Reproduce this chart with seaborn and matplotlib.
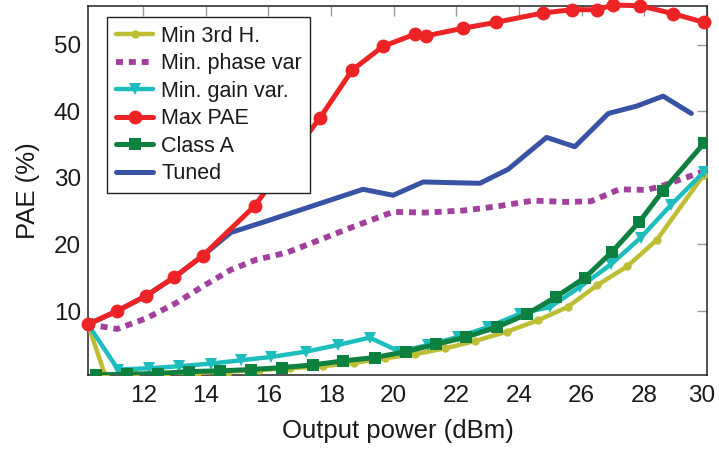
import matplotlib
matplotlib.use("Agg")
import matplotlib.pyplot as plt
import matplotlib.transforms as mtransforms
import seaborn as sns
import pandas as pd

sns.set_theme(style="white")
plt.rcParams['font.family'] = ['Liberation Sans', 'DejaVu Sans']

# ---- data ----
x_3rd = [10.24, 10.78, 11.75, 12.74, 13.73, 14.71, 15.7, 16.68, 17.73, 18.74, 19.71,
         20.67, 21.65, 22.6, 23.62, 24.6, 25.55, 26.5, 27.45, 28.4, 29.9]
y_3rd = [8.0, 0.4, 0.5, 0.6, 0.7, 0.9, 1.1, 1.4, 1.7, 2.2, 2.9,
         3.5, 4.4, 5.5, 6.9, 8.6, 10.6, 13.9, 16.7, 20.7, 30.5]

x_phase = [10.24, 11.17, 12.1, 13.05, 13.9, 14.8, 15.6, 16.6, 17.64, 18.67, 19.98,
           21.0, 22.2, 23.26, 24.45, 25.5, 26.3, 27.2, 28.05, 28.5, 29.9]
y_phase = [8.0, 7.3, 8.9, 11.2, 13.7, 16.2, 17.7, 18.8, 20.7, 22.6, 24.9,
           24.8, 25.1, 25.7, 26.6, 26.4, 26.5, 28.3, 28.2, 28.7, 31.0]

x_gain = [10.24, 11.2, 12.2, 13.16, 14.17, 15.13, 16.09, 17.21, 18.22, 19.23, 20.19,
          21.1, 22.05, 23.02, 24.03, 24.99, 25.94, 26.93, 27.88, 28.84, 29.9]
y_gain = [8.0, 1.2, 1.4, 1.7, 2.1, 2.6, 3.1, 3.9, 4.9, 6.0, 3.9,
          4.9, 6.1, 7.6, 9.6, 10.6, 13.6, 17.0, 21.0, 25.9, 30.9]

x_pae = [10.24, 11.17, 12.1, 13.0, 13.9, 15.56, 16.6, 17.64, 18.67, 19.66, 20.67,
         21.02, 22.2, 23.26, 24.75, 25.7, 26.48, 27.0, 27.86, 28.92, 29.9]
y_pae = [8.0, 10.0, 12.3, 15.1, 18.3, 25.8, 32.5, 39.0, 46.2, 49.8, 51.6,
         51.35, 52.5, 53.4, 54.8, 55.3, 55.3, 56.0, 55.9, 54.7, 53.4]

x_classa = [10.48, 11.48, 12.47, 13.46, 14.44, 15.43, 16.43, 17.43, 18.38, 19.39, 20.38,
            21.36, 22.32, 23.3, 24.24, 25.17, 26.1, 26.97, 27.84, 28.58, 29.9]
y_classa = [0.4, 0.5, 0.6, 0.9, 1.0, 1.2, 1.5, 1.9, 2.5, 3.0, 3.9,
            5.0, 6.1, 7.6, 9.5, 12.1, 15.0, 18.9, 23.4, 28.0, 35.2]

x_tuned = [10.24, 11.17, 12.1, 13.0, 13.9, 14.8, 15.93, 19.02, 19.98, 20.94, 22.75,
           23.65, 24.88, 25.78, 26.85, 27.75, 28.6, 29.5]
y_tuned = [8.0, 10.0, 12.3, 15.1, 18.3, 21.8, 23.5, 28.3, 27.4, 29.4, 29.2,
           31.3, 36.1, 34.7, 39.7, 40.8, 42.3, 39.7]

labels = ["Min 3rd H.", "Min. phase var", "Min. gain var.", "Max PAE", "Class A", "Tuned"]
x_ticks = [12, 14, 16, 18, 20, 22, 24, 26, 28, 30]
y_ticks = [10, 20, 30, 40, 50]

# ---- figure ----
fig = plt.figure(figsize=(7.19, 4.49), dpi=100)
ax = fig.add_axes([0.1224, 0.1648, 0.8609, 0.8225])

def draw(x, y, label, color, z, **kw):
    df = pd.DataFrame({"x": x, "y": y})
    sns.lineplot(data=df, x="x", y="y", ax=ax, sort=False, estimator=None,
                 color=color, label=label, zorder=z, **kw)

draw(x_3rd, y_3rd, labels[0], "#BDBE33", 3, lw=3.2, marker="o", markersize=6,
     markeredgewidth=0)
draw(x_phase, y_phase, labels[1], "#A2409D", 3.1, lw=4.2, dashes=(1.2, 1.0))
draw(x_gain, y_gain, labels[2], "#1EBDBD", 3.2, lw=3.2, marker="v", markersize=8,
     markeredgewidth=0)
draw(x_pae, y_pae, labels[3], "#EE2325", 3.5, lw=3.6, marker="o", markersize=10,
     markeredgewidth=0, clip_on=False)
draw(x_classa, y_classa, labels[4], "#0E8040", 3.4, lw=3.6, marker="s", markersize=8,
     markeredgewidth=0)
draw(x_tuned, y_tuned, labels[5], "#3953A4", 3.3, lw=3.6)

ax.set_xlim(10.24, 30)
ax.set_ylim(0.38, 55.9)
ax.set_xticks(x_ticks)
ax.set_yticks(y_ticks)
ax.tick_params(axis="both", which="both", direction="in", length=7, width=1,
               color="#999999", labelsize=17.5, top=True, right=True,
               labelcolor="#1a1a1a")
ax.tick_params(axis="x", pad=7)
ax.tick_params(axis="y", pad=5)
for s in ax.spines.values():
    s.set_color("#222222")
    s.set_linewidth(1.1)

# nudge the last x tick label so it stays inside the canvas
last = ax.get_xticklabels()[-1]
last.set_transform(last.get_transform() +
                   mtransforms.ScaledTranslation(-5 / 100, 0, fig.dpi_scale_trans))

ax.set_xlabel("Output power (dBm)", fontsize=18.5, color="#1a1a1a", labelpad=9)
ax.set_ylabel("PAE (%)", fontsize=18.5, color="#1a1a1a", labelpad=10)

leg = ax.legend(loc="upper left", bbox_to_anchor=(0.031, 0.969), borderaxespad=0,
                fontsize=15.5, frameon=True, fancybox=False, framealpha=1,
                edgecolor="#222222", handlelength=1.75, handletextpad=0.35,
                labelspacing=0.3, borderpad=0.4)
leg.get_frame().set_linewidth(1.0)
leg.set_zorder(10)
for t in leg.get_texts():
    t.set_color("#1a1a1a")

fig.savefig("out.png", dpi=100)
